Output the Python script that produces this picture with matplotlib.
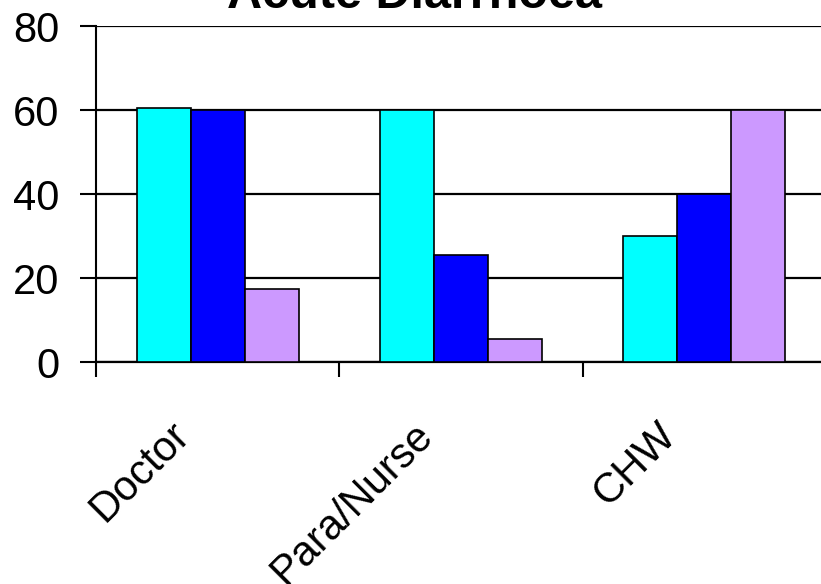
import numpy as np
import matplotlib
matplotlib.use("Agg")
import matplotlib.pyplot as plt
from matplotlib.transforms import ScaledTranslation

plt.rcParams['font.family'] = ['Liberation Sans', 'DejaVu Sans']

categories = ['Doctor', 'Para/Nurse', 'CHW']
series1 = [60.5, 60, 30]
series2 = [60, 25.5, 40]
series3 = [17.5, 5.5, 60]
colors = ['#00FFFF', '#0000FF', '#CC99FF']
yticks = [0, 20, 40, 60, 80]


def main():
    fig = plt.figure(figsize=(8.21, 5.84), dpi=100)
    ax = fig.add_axes([96 / 821, 222 / 584, 730 / 821, 336 / 584])

    x = np.arange(len(categories))
    w = 2 / 9
    for i, (vals, c) in enumerate(zip([series1, series2, series3], colors)):
        ax.bar(x + (i - 1) * w, vals, width=w, color=c, edgecolor='black',
               linewidth=1.2, zorder=3)

    ax.set_xlim(-0.5, len(categories) - 0.5)
    ax.set_ylim(0, 80)
    ax.set_yticks(yticks)
    ax.yaxis.grid(True, color='black', linewidth=1.6, zorder=0)
    ax.set_axisbelow(True)

    for s in ['top', 'right']:
        ax.spines[s].set_visible(False)
    ax.spines['left'].set_linewidth(1.5)
    ax.spines['bottom'].set_linewidth(1.6)

    ax.tick_params(axis='y', labelsize=30, length=11.5, width=1.5, pad=15)

    ax.set_xticks(x)
    ax.set_xticks(np.arange(len(categories) + 1) - 0.5, minor=True)
    ax.tick_params(axis='x', which='major', length=0, pad=38)
    ax.tick_params(axis='x', which='minor', length=11, width=1.5)
    ax.set_xticklabels(categories, fontsize=30, rotation=45, ha='right', va='top')
    shift = ScaledTranslation(-20 / 100, 0, fig.dpi_scale_trans)
    for lab in ax.get_xticklabels():
        lab.set_transform(lab.get_transform() + shift)

    # title sits mostly above the canvas, as in the original
    fig.text(414 / 821, 1 - 8 / 584, 'Acute Diarrhoea', fontsize=35,
             fontweight='bold', ha='center', va='baseline')

    fig.savefig('out.png', dpi=100)


if __name__ == "__main__":
    main()
